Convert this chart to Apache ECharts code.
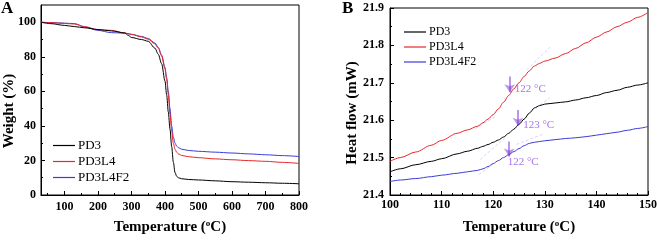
<!DOCTYPE html>
<html>
<head>
<meta charset="utf-8">
<script src="https://cdn.jsdelivr.net/npm/echarts@6/dist/echarts.min.js"></script>
<style>
  html, body { margin: 0; padding: 0; background: #fff; }
  #main { width: 660px; height: 240px; }
</style>
</head>
<body>
<div id="main"></div>
<script>
  // A: TGA curves, shared temperature grid (°C) and weight (%)
  const tgaTemp = [30, 60, 100, 130, 160, 200, 240, 280, 290, 300, 330, 350, 370, 380, 390, 400, 405, 410, 415, 420, 425, 430, 435, 440, 450, 470, 500, 550, 600, 650, 700, 750, 800]
  const tgaPD3 = [100, 99.2, 98.2, 97.5, 96.8, 95.8, 95, 93.8, 92.5, 91.2, 90, 89, 85, 81.5, 76, 66, 58, 48, 38, 28, 19, 13, 10.8, 10, 9.4, 9, 8.7, 8.2, 7.7, 7.4, 7.1, 6.8, 6.5]
  const tgaPD3L4 = [100, 99.8, 99.3, 99, 97.5, 95.7, 95.3, 93.8, 93.4, 93, 91.5, 90.2, 87.5, 85, 80.5, 73, 67, 58, 47, 37, 30, 26.5, 24.8, 23.8, 22.9, 22.2, 21.6, 20.9, 20.4, 19.9, 19.5, 18.9, 18.3]
  const tgaPD3L4F2 = [100, 99.8, 99.5, 99.2, 97.3, 95.3, 94, 93.7, 93.4, 93, 91.8, 90.6, 88, 85.5, 81, 74, 68, 60, 50, 40, 33.5, 30, 28.3, 27.4, 26.5, 25.8, 25.3, 24.8, 24.3, 23.8, 23.3, 22.8, 22.3]
  const tgaXTicks = [100, 200, 300, 400, 500, 600, 700, 800]
  const tgaXMinor = [50, 150, 250, 350, 450, 550, 650, 750]
  const tgaYTicks = [0, 20, 40, 60, 80, 100]
  const tgaYMinor = [10, 30, 50, 70, 90]

  // B: DSC curves, temperature (°C) and heat flow (mW)
  const dscTemp = [100, 102, 105, 108, 110, 113, 115, 117, 118, 119, 120, 121, 122, 123, 124, 125, 126, 127, 128, 129, 130, 132, 134, 136, 138, 140, 142, 144, 146, 148, 150]
  const dscPD3 = [21.462, 21.47, 21.481, 21.49, 21.497, 21.51, 21.517, 21.525, 21.53, 21.535, 21.541, 21.547, 21.555, 21.565, 21.576, 21.589, 21.603, 21.619, 21.633, 21.639, 21.643, 21.646, 21.649, 21.654, 21.66, 21.666, 21.674, 21.68, 21.688, 21.694, 21.70]
  const dscPD3L4 = [21.49, 21.50, 21.515, 21.533, 21.546, 21.565, 21.574, 21.584, 21.593, 21.603, 21.615, 21.63, 21.648, 21.666, 21.684, 21.70, 21.717, 21.732, 21.745, 21.752, 21.758, 21.766, 21.778, 21.792, 21.807, 21.822, 21.836, 21.85, 21.862, 21.875, 21.888]
  const dscPD3L4F2 = [21.436, 21.44, 21.444, 21.449, 21.453, 21.458, 21.462, 21.466, 21.47, 21.476, 21.484, 21.492, 21.5, 21.508, 21.516, 21.524, 21.532, 21.538, 21.541, 21.543, 21.545, 21.548, 21.551, 21.553, 21.556, 21.56, 21.564, 21.568, 21.573, 21.578, 21.583]

  // Tg annotations (data coordinates)
  const tangentLines = [
    [[116.5, 21.578], [120.5, 21.61]], [[126.5, 21.735], [131, 21.795]],
    [[117.5, 21.495], [122.5, 21.555]], [[127.5, 21.625], [131, 21.66]],
    [[117.2, 21.455], [119.8, 21.48]], [[124.5, 21.535], [129.5, 21.562]]
  ]
  const tgArrows = [
    [[123.2, 21.717], [123.2, 21.675]],
    [[124.8, 21.627], [124.8, 21.585]],
    [[123.1, 21.543], [123.1, 21.503]]
  ]
  const tgLabels = [
    [124.2, 21.683, '122 °C'],
    [125.8, 21.588, '123 °C'],
    [122.8, 21.487, '122 °C']
  ]

  const names = ['PD3', 'PD3L4', 'PD3L4F2']
  const colors = ['#000000', '#e8262b', '#3b3bdb']
  const serif = 'Liberation Serif'

  const zip = (xs, ys) => xs.map((x, i) => [x, ys[i]])

  const chartDom = document.getElementById('main')
  const myChart = echarts.init(chartDom)
  let option

  const tickLabel = (size) => ({
    color: '#000', fontFamily: serif, fontWeight: 'bold', fontSize: size
  })
  const axisLine = { show: true, lineStyle: { color: '#000', width: 1 } }
  const nameStyle = {
    color: '#000', fontFamily: serif, fontWeight: 'bold', fontSize: 15,
    rich: {
      s: { color: '#000', fontFamily: serif, fontWeight: 'bold', fontSize: 9, verticalAlign: 'top', padding: [0, 0, 8, 0] }
    }
  }
  const legendItems = (size) => names.map(n => ({
    name: n,
    textStyle: { fontFamily: serif, fontWeight: 'normal', fontSize: size, color: '#000', padding: [0, 0, 0, -2] }
  }))

  option = {
    backgroundColor: '#fff',
    animation: false,
    textStyle: { fontFamily: serif },
    title: [
      { text: 'A', left: 1, top: 0, padding: 0, textStyle: { fontFamily: serif, fontWeight: 'bold', fontSize: 17, color: '#000' } },
      { text: 'B', left: 342, top: 0, padding: 0, textStyle: { fontFamily: serif, fontWeight: 'bold', fontSize: 17, color: '#000' } }
    ],
    grid: [
      { left: 41, top: 5, right: 361, bottom: 45, show: true, borderColor: '#000', borderWidth: 1 },
      { left: 390, top: 8, right: 8, bottom: 43, show: true, borderColor: '#000', borderWidth: 1 }
    ],
    legend: [
      {
        data: legendItems(13), orient: 'vertical', left: 53, top: 139, padding: 0, icon: 'rect', itemWidth: 22, itemHeight: 1.2, itemGap: 3,
        textStyle: { fontFamily: serif, fontSize: 13, color: '#000' }
      },
      {
        data: legendItems(12), orient: 'vertical', left: 404, top: 26, padding: 0, icon: 'rect', itemWidth: 22, itemHeight: 1.2, itemGap: 3,
        textStyle: { fontFamily: serif, fontSize: 12, color: '#000' }
      }
    ],
    graphic: [
      {
        type: 'text', x: 9, y: 111, rotation: Math.PI / 2,
        style: { text: 'Weight (%)', fill: '#000', font: 'bold 15px "Liberation Serif"', align: 'center', verticalAlign: 'middle' }
      },
      {
        type: 'text', x: 352, y: 113, rotation: Math.PI / 2,
        style: { text: 'Heat flow (mW)', fill: '#000', font: 'bold 15px "Liberation Serif"', align: 'center', verticalAlign: 'middle' }
      }
    ],
    xAxis: [
      {
        gridIndex: 0, type: 'value', min: 30, max: 800, position: 'bottom',
        axisLine: axisLine,
        axisTick: { inside: true, length: 4, customValues: tgaXTicks, lineStyle: { color: '#000' } },
        axisLabel: { customValues: tgaXTicks, margin: 6, ...tickLabel(12) },
        splitLine: { show: false },
        name: 'Temperature ({s|o}C)', nameLocation: 'middle', nameGap: 24, nameTextStyle: nameStyle
      },
      {
        gridIndex: 0, type: 'value', min: 30, max: 800, position: 'bottom',
        axisLine: { show: false },
        axisTick: { inside: true, length: 2, customValues: tgaXMinor, lineStyle: { color: '#000' } },
        axisLabel: { show: false },
        splitLine: { show: false }
      },
      {
        gridIndex: 1, type: 'value', min: 100, max: 150, interval: 10,
        axisLine: axisLine,
        axisTick: { inside: true, length: 4, lineStyle: { color: '#000' } },
        minorTick: { show: true, splitNumber: 5, length: 2, lineStyle: { color: '#000' } },
        axisLabel: { margin: 4, ...tickLabel(12) },
        splitLine: { show: false },
        name: 'Temperature ({s|o}C)', nameLocation: 'middle', nameGap: 24, nameTextStyle: nameStyle
      }
    ],
    yAxis: [
      {
        gridIndex: 0, type: 'value', min: 0, max: 110, position: 'left',
        axisLine: axisLine,
        axisTick: { inside: true, length: 4, customValues: tgaYTicks, lineStyle: { color: '#000' } },
        axisLabel: { customValues: tgaYTicks, margin: 5, ...tickLabel(12) },
        splitLine: { show: false }
      },
      {
        gridIndex: 0, type: 'value', min: 0, max: 110, position: 'left',
        axisLine: { show: false },
        axisTick: { inside: true, length: 2, customValues: tgaYMinor, lineStyle: { color: '#000' } },
        axisLabel: { show: false },
        splitLine: { show: false }
      },
      {
        gridIndex: 1, type: 'value', min: 21.4, max: 21.9, interval: 0.1,
        axisLine: axisLine,
        axisTick: { inside: true, length: 4, lineStyle: { color: '#000' } },
        minorTick: { show: true, splitNumber: 2, length: 2, lineStyle: { color: '#000' } },
        axisLabel: { margin: 6, formatter: (v) => v.toFixed(1), ...tickLabel(12) },
        splitLine: { show: false }
      }
    ],
    series: []
  }

  const tgaData = [tgaPD3, tgaPD3L4, tgaPD3L4F2]
  const dscData = [dscPD3, dscPD3L4, dscPD3L4F2]
  names.forEach((name, i) => {
    option.series.push({
      name: name, type: 'line', xAxisIndex: 0, yAxisIndex: 0,
      data: zip(tgaTemp, tgaData[i]), symbol: 'none', smooth: 0.3, smoothMonotone: 'x',
      lineStyle: { color: colors[i], width: 1 }, itemStyle: { color: colors[i] }, z: 3 - i + 2
    })
  })
  names.forEach((name, i) => {
    option.series.push({
      name: name, type: 'line', xAxisIndex: 2, yAxisIndex: 2,
      data: zip(dscTemp, dscData[i]), symbol: 'none', smooth: 0.3, smoothMonotone: 'x',
      lineStyle: { color: colors[i], width: 1 }, itemStyle: { color: colors[i] }
    })
  })

  // dashed tangents
  option.series.push({
    type: 'lines', coordinateSystem: 'cartesian2d', xAxisIndex: 2, yAxisIndex: 2,
    data: tangentLines.map(c => ({ coords: c })),
    lineStyle: { color: '#b58af0', width: 0.8, type: [3, 2] }, z: 1
  })
  // Tg arrows
  option.series.push({
    type: 'lines', coordinateSystem: 'cartesian2d', xAxisIndex: 2, yAxisIndex: 2,
    data: tgArrows.map(c => ({ coords: c })),
    symbol: ['none', 'arrow'], symbolSize: [7, 8],
    lineStyle: { color: '#7a2ed8', width: 2 }, z: 5
  })
  // Tg labels
  option.series.push({
    type: 'scatter', xAxisIndex: 2, yAxisIndex: 2, symbolSize: 0,
    data: tgLabels.map(d => ({ value: [d[0], d[1]], name: d[2] })),
    label: {
      show: true, position: 'right', distance: 0, formatter: (p) => p.name,
      fontFamily: serif, fontSize: 11, color: '#8f4fe6'
    },
    z: 5
  })

  option && myChart.setOption(option)
</script>
</body>
</html>
